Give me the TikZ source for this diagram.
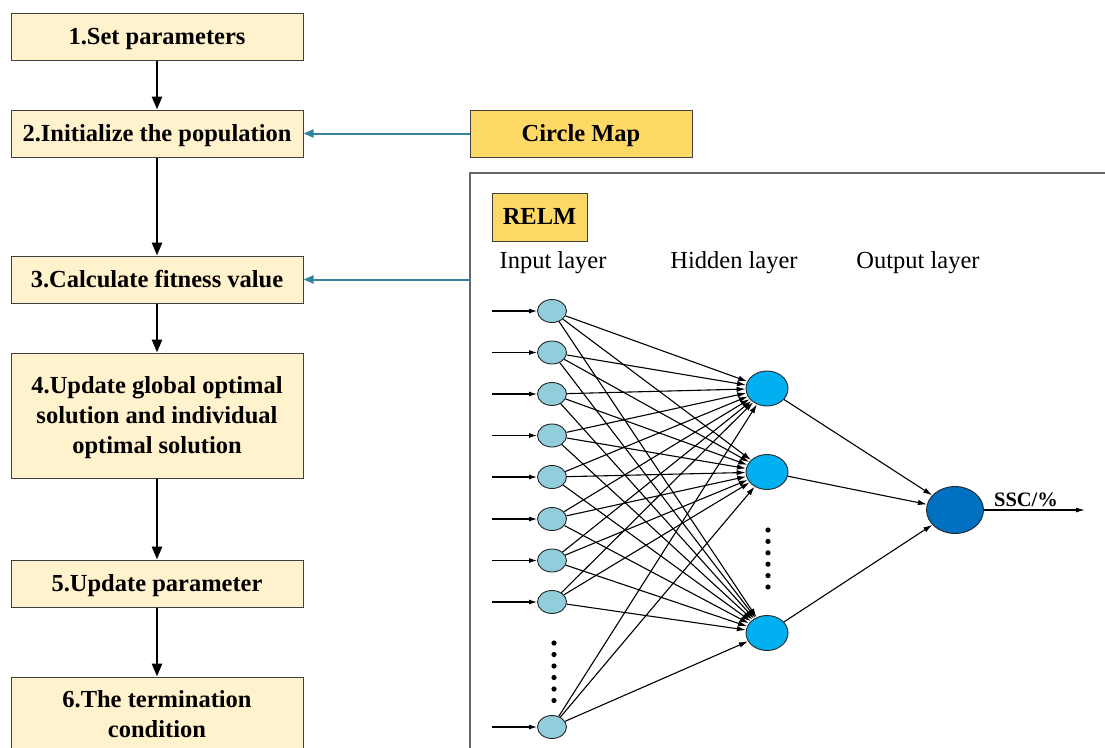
\documentclass[tikz,border=0pt]{standalone}
\usepackage{fontspec}
\setmainfont{Liberation Serif}
\usetikzlibrary{arrows.meta,shapes.geometric}
\definecolor{boxfill}{HTML}{FFF2CC}
\definecolor{goldfill}{HTML}{FFD966}
\definecolor{tealarrow}{HTML}{31849B}
\definecolor{inpfill}{HTML}{92CDDC}
\definecolor{hidfill}{HTML}{00B0F0}
\definecolor{outfill}{HTML}{0070C0}
\begin{document}
\begin{tikzpicture}[x=1pt,y=-1pt,
  stepbox/.style={draw=black!75, line width=1pt, fill=boxfill, minimum width=292pt, align=center,
    font=\fontsize{24.5}{30}\selectfont\bfseries, inner sep=0pt, text depth=1pt},
  goldbox/.style={draw=black!75, line width=1pt, fill=goldfill, align=center,
    font=\fontsize{24.5}{30}\selectfont\bfseries, inner sep=0pt, text depth=1pt},
  flowarr/.style={line width=2.7pt, -{Triangle[length=13pt,width=10pt]}},
  tealarr/.style={draw=tealarrow, line width=2pt, -{Triangle[length=10pt,width=8pt]}},
  inp/.style={ellipse, draw=black!85, line width=0.9pt, fill=inpfill, minimum width=29pt, minimum height=23pt, inner sep=0pt},
  hid/.style={ellipse, draw=black!85, line width=0.9pt, fill=hidfill, minimum width=42pt, minimum height=35pt, inner sep=0pt},
  outn/.style={ellipse, draw=black!85, line width=0.9pt, fill=outfill, minimum width=57pt, minimum height=47pt, inner sep=0pt},
  netarr/.style={line width=1.1pt, -{Latex[length=9pt,width=5.5pt]}},
  layerlbl/.style={font=\fontsize{24.5}{28}\selectfont},
  dotmark/.style={fill=black}
]
\useasboundingbox (0,0) rectangle (1105,747);
\clip (0,0) rectangle (1105,747);

% flowchart
\node[stepbox, minimum height=47pt] (b1) at (157,37) {1.Set parameters};
\node[stepbox, minimum height=47pt] (b2) at (157,133.5) {2.Initialize the population};
\node[stepbox, minimum height=47pt] (b3) at (157,279.5) {3.Calculate fitness value};
\node[stepbox, minimum height=125pt] (b4) at (157,415.5) {4.Update global optimal\\solution and individual\\optimal solution};
\node[stepbox, minimum height=47pt] (b5) at (157,583.5) {5.Update parameter};
\node[stepbox, minimum height=74pt] (b6) at (157,714) {6.The termination\\condition};

\draw[flowarr] (b1) -- (b2);
\draw[flowarr] (b2) -- (b3);
\draw[flowarr] (b3) -- (b4);
\draw[flowarr] (b4) -- (b5);
\draw[flowarr] (b5) -- (b6);

% circle map
\node[goldbox, minimum width=222pt, minimum height=47pt] (cm) at (581,133.5) {Circle Map};
\draw[tealarr] (cm.west) -- (b2.east);

% RELM frame
\draw[draw=black!60, line width=1.3pt] (470,760) -- (470,173) -- (1115,173);
\coordinate (fr) at (470,279.5);
\draw[tealarr] (fr) -- (b3.east);

\node[goldbox, minimum width=95pt, minimum height=48pt] (relm) at (539.5,217) {RELM};

\node[layerlbl] (l1) at (553,262.5) {Input layer};
\node[layerlbl] (l2) at (734,262.5) {Hidden layer};
\node[layerlbl] (l3) at (918,262.5) {Output layer};

% network
\foreach \y [count=\k] in {311,352.5,394,435.5,477,519,560.5,602,727} {
  \node[inp] (i\k) at (552,\y) {};
  \coordinate (s\k) at (492,\y);
  \draw[line width=1.1pt, -{Latex[length=8pt,width=5pt]}] (s\k) -- (i\k);
}
\node[hid] (h1) at (767,388.5) {};
\node[hid] (h2) at (767,472) {};
\node[hid] (h3) at (767,633) {};
\node[outn] (o) at (955,510) {};

\foreach \a in {1,...,9} {
  \foreach \b in {1,2,3} {
    \draw[netarr] (i\a) -- (h\b);
  }
}
\foreach \b in {1,2,3} { \draw[netarr] (h\b) -- (o); }

\coordinate (oend) at (1085,510);
\draw[line width=1.1pt, -{Latex[length=9pt,width=5pt]}] (o) -- (oend);
\node[font=\fontsize{20.5}{24}\selectfont\bfseries] (ssc) at (1026,500) {SSC/\%};

% dots
\foreach \k in {0,...,5} {
  \fill[dotmark] (554,643+11.5*\k) circle (2.6pt);
  \fill[dotmark] (768,530+11.4*\k) circle (2.6pt);
}
\end{tikzpicture}
\end{document}
